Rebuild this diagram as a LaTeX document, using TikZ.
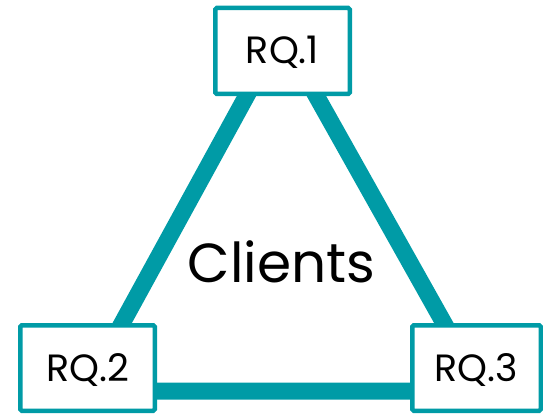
\documentclass[tikz,border=0pt]{standalone}
\usepackage{fontspec}
\setmainfont{Poppins}
\definecolor{teal}{RGB}{0,155,166}
\begin{document}
\begin{tikzpicture}[x=1pt,y=1pt,
  rqbox/.style={draw=teal, line width=4.5pt, fill=white, rounded corners=1.5pt,
    minimum width=134.5pt, minimum height=86pt, inner sep=0pt,
    font=\fontsize{38}{42}\selectfont, text height=26pt, text depth=0pt},
  edge/.style={draw=teal, line width=17pt}]
\useasboundingbox (0,0) rectangle (543,415);
% triangle corners behind the boxes
\coordinate (top) at (281,382);
\coordinate (bl) at (85,24);
\coordinate (br) at (482,24);
\draw[edge] (top) -- (bl) -- (br) -- cycle;
% research question boxes
\node[rqbox] (rq1) at (282.5,364) {RQ.1};
\node[rqbox, minimum height=85.5pt] (rq2) at (87.5,47) {RQ.2};
\node[rqbox, minimum width=128.5pt, minimum height=85.5pt] (rq3) at (476.5,47) {RQ.3};
% centre label
\node[font=\fontsize{55}{60}\selectfont, anchor=base, inner sep=0pt] (clients) at (281.5,132) {Clients};
\end{tikzpicture}
\end{document}
